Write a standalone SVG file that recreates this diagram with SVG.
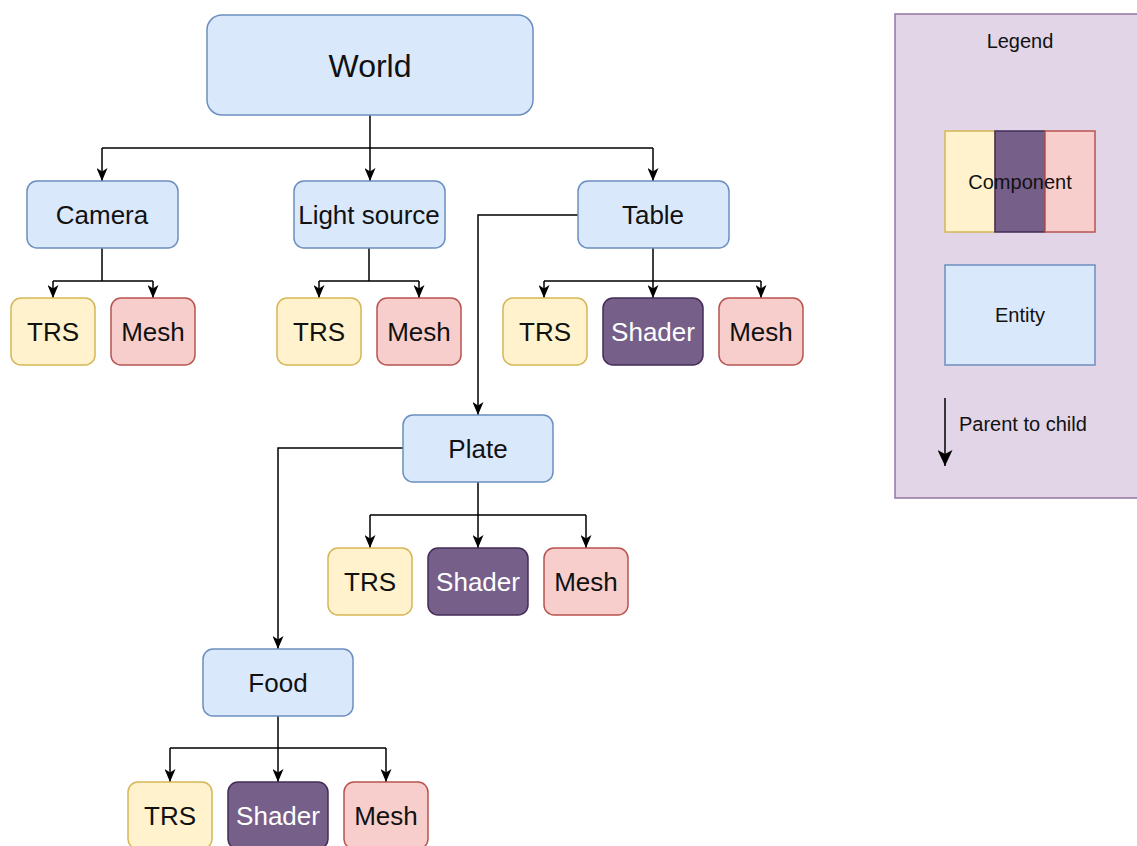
<svg xmlns="http://www.w3.org/2000/svg" width="1137" height="846" viewBox="0 0 1137 846">
  <defs>
    <marker id="arrow" viewBox="0 0 13 11" refX="13" refY="5.5" markerWidth="13" markerHeight="11" markerUnits="userSpaceOnUse" orient="auto">
      <path d="M0,0 L13,5.5 L0,11 L3.5,5.5 Z" fill="#000"/>
    </marker>
    <marker id="arrow-lg" viewBox="0 0 16 15" refX="16" refY="7.5" markerWidth="16" markerHeight="15" markerUnits="userSpaceOnUse" orient="auto">
      <path d="M0,0 L16,7.5 L0,15 L4,7.5 Z" fill="#000"/>
    </marker>
    <style>
      text { font-family: "Liberation Sans", Arial, sans-serif; text-anchor: middle; dominant-baseline: central; fill: #111; }
      .entity { fill: #dae8fc; stroke: #6c8ebf; stroke-width: 1.5; }
      .trs { fill: #fff2cc; stroke: #d6b656; stroke-width: 1.5; }
      .mesh { fill: #f8cecc; stroke: #b85450; stroke-width: 1.5; }
      .shader { fill: #76608a; stroke: #432d57; stroke-width: 1.5; }
      .lbl { font-size: 26px; }
      .legend-lbl { font-size: 20px; }
      .light { fill: #ffffff; }
      .edge { fill: none; stroke: #000; stroke-width: 1.5; }
      .edge-arrow { fill: none; stroke: #000; stroke-width: 1.5; marker-end: url(#arrow); }
    </style>
  </defs>
  <rect width="1137" height="846" fill="#ffffff"/>

  <!-- connectors -->
  <g id="connectors">
    <!-- World to its children -->
    <path class="edge" d="M370,115 V148" stroke-width="2.5"/>
    <path class="edge" d="M102,148 H653"/>
    <path class="edge-arrow" d="M102,148 V181"/>
    <path class="edge-arrow" d="M370,148 V181"/>
    <path class="edge-arrow" d="M653,148 V181"/>
    <!-- Camera -->
    <path class="edge" d="M102,248 V281 M53,281 H153"/>
    <path class="edge-arrow" d="M53,281 V298"/>
    <path class="edge-arrow" d="M153,281 V298"/>
    <!-- Light source -->
    <path class="edge" d="M369,248 V281 M319,281 H419"/>
    <path class="edge-arrow" d="M319,281 V298"/>
    <path class="edge-arrow" d="M419,281 V298"/>
    <!-- Table -->
    <path class="edge" d="M653,248 V281 M544,281 H761"/>
    <path class="edge-arrow" d="M544,281 V298"/>
    <path class="edge-arrow" d="M653,281 V298"/>
    <path class="edge-arrow" d="M761,281 V298"/>
    <path class="edge-arrow" d="M578,215 H478 V415"/>
    <!-- Plate -->
    <path class="edge" d="M478,482 V515 M370,515 H586"/>
    <path class="edge-arrow" d="M370,515 V548"/>
    <path class="edge-arrow" d="M478,515 V548"/>
    <path class="edge-arrow" d="M586,515 V548"/>
    <path class="edge-arrow" d="M403,448 H278 V649"/>
    <!-- Food -->
    <path class="edge" d="M278,716 V748 M170,748 H386"/>
    <path class="edge-arrow" d="M170,748 V782"/>
    <path class="edge-arrow" d="M278,748 V782"/>
    <path class="edge-arrow" d="M386,748 V782"/>
  </g>

  <!-- entities -->
  <g id="world"><rect class="entity" x="207" y="15" width="326" height="100" rx="15"/><text x="370" y="66" font-size="32">World</text></g>
  <g id="camera"><rect class="entity" x="27" y="181" width="151" height="67" rx="10"/><text class="lbl" x="102" y="215">Camera</text></g>
  <g id="light-source"><rect class="entity" x="294" y="181" width="151" height="67" rx="10"/><text class="lbl" x="369" y="215">Light source</text></g>
  <g id="table"><rect class="entity" x="578" y="181" width="151" height="67" rx="10"/><text class="lbl" x="653" y="215">Table</text></g>
  <g id="plate"><rect class="entity" x="403" y="415" width="150" height="67" rx="10"/><text class="lbl" x="478" y="449">Plate</text></g>
  <g id="food"><rect class="entity" x="203" y="649" width="150" height="67" rx="10"/><text class="lbl" x="278" y="683">Food</text></g>

  <!-- components: Camera -->
  <g id="camera-trs"><rect class="trs" x="11" y="298" width="84" height="67" rx="10"/><text class="lbl" x="53" y="332">TRS</text></g>
  <g id="camera-mesh"><rect class="mesh" x="111" y="298" width="84" height="67" rx="10"/><text class="lbl" x="153" y="332">Mesh</text></g>
  <!-- components: Light source -->
  <g id="light-trs"><rect class="trs" x="277" y="298" width="84" height="67" rx="10"/><text class="lbl" x="319" y="332">TRS</text></g>
  <g id="light-mesh"><rect class="mesh" x="377" y="298" width="84" height="67" rx="10"/><text class="lbl" x="419" y="332">Mesh</text></g>
  <!-- components: Table -->
  <g id="table-trs"><rect class="trs" x="503" y="298" width="84" height="67" rx="10"/><text class="lbl" x="545" y="332">TRS</text></g>
  <g id="table-shader"><rect class="shader" x="603" y="298" width="100" height="67" rx="10"/><text class="lbl light" x="653" y="332">Shader</text></g>
  <g id="table-mesh"><rect class="mesh" x="719" y="298" width="84" height="67" rx="10"/><text class="lbl" x="761" y="332">Mesh</text></g>
  <!-- components: Plate -->
  <g id="plate-trs"><rect class="trs" x="328" y="548" width="84" height="67" rx="10"/><text class="lbl" x="370" y="582">TRS</text></g>
  <g id="plate-shader"><rect class="shader" x="428" y="548" width="100" height="67" rx="10"/><text class="lbl light" x="478" y="582">Shader</text></g>
  <g id="plate-mesh"><rect class="mesh" x="544" y="548" width="84" height="67" rx="10"/><text class="lbl" x="586" y="582">Mesh</text></g>
  <!-- components: Food -->
  <g id="food-trs"><rect class="trs" x="128" y="782" width="84" height="67" rx="10"/><text class="lbl" x="170" y="816">TRS</text></g>
  <g id="food-shader"><rect class="shader" x="228" y="782" width="100" height="67" rx="10"/><text class="lbl light" x="278" y="816">Shader</text></g>
  <g id="food-mesh"><rect class="mesh" x="344" y="782" width="84" height="67" rx="10"/><text class="lbl" x="386" y="816">Mesh</text></g>

  <!-- legend -->
  <g id="legend">
    <rect x="895" y="14" width="250" height="484" fill="#e1d5e7" stroke="#9673a6" stroke-width="1.5"/>
    <text class="legend-lbl" x="1020" y="41">Legend</text>
    <rect class="trs" x="945" y="131" width="50" height="101"/>
    <rect class="shader" x="995" y="131" width="50" height="101"/>
    <rect class="mesh" x="1045" y="131" width="50" height="101"/>
    <text class="legend-lbl" x="1020" y="182">Component</text>
    <rect class="entity" x="945" y="265" width="150" height="100"/>
    <text class="legend-lbl" x="1020" y="315">Entity</text>
    <path class="edge" d="M945,398 V466" marker-end="url(#arrow-lg)"/>
    <text class="legend-lbl" x="959" y="424" style="text-anchor:start">Parent to child</text>
  </g>
</svg>
